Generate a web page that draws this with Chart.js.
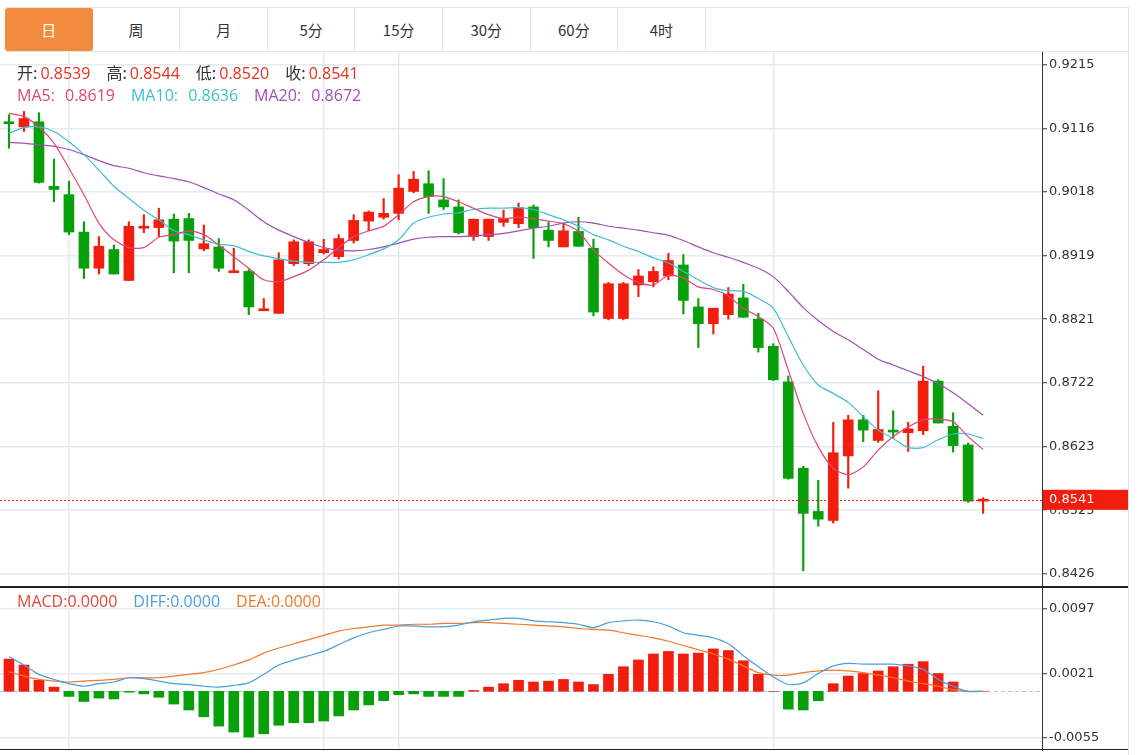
<!DOCTYPE html>
<html>
<head>
<meta charset="utf-8">
<script src="https://cdn.jsdelivr.net/npm/chart.js@4.4.1/dist/chart.umd.min.js"></script>
<style>
  body { margin: 0; background: #fff; font-family: "Microsoft YaHei", "Noto Sans CJK SC", sans-serif; }
  #wrap { position: relative; width: 1141px; height: 755px; overflow: hidden; }
  .tabs { position: absolute; left: 5px; top: 7px; width: 1123px; height: 43px; border-top: 1px solid #e4e4e4; border-bottom: 1px solid #e4e4e4; display: flex; }
  .tab { width: 87.6px; box-sizing: border-box; border-right: 1px solid #e4e4e4; text-align: center; line-height: 43px; font-size: 15px; color: #333; }
  .tab.on { background: #f28b3d; color: #fff; border-radius: 3px; border-right: none; }
  .edge { position: absolute; left: 1128px; top: 7px; width: 1px; height: 748px; background: #e4e4e4; }
  .box { position: absolute; left: 0; }
  .legend { position: absolute; left: 17px; font-size: 16px; line-height: 24px; white-space: nowrap;
            font-family: "Open Sans", "Noto Sans CJK SC", sans-serif; }
  .gap { display: inline-block; width: 16px; }
  .k { color: #333; font-family: "Noto Sans CJK SC", sans-serif; font-size: 16px; margin-right: 3px; }
  .r { color: #e8311f; }
</style>
</head>
<body>
<div id="wrap">
  <div class="tabs">
    <div class="tab on">日</div><div class="tab">周</div><div class="tab">月</div><div class="tab">5分</div>
    <div class="tab">15分</div><div class="tab">30分</div><div class="tab">60分</div><div class="tab">4时</div>
  </div>
  <div class="edge"></div>
  <div class="box" style="top:52px"><canvas id="main" width="1128" height="535"></canvas></div>
  <div class="box" style="top:587px"><canvas id="macd" width="1128" height="164"></canvas></div>
  <div class="legend" id="ohlc" style="top:60px"></div>
  <div class="legend" id="ma" style="top:83px; word-spacing: 6px"></div>
  <div class="legend" id="macdLeg" style="top:589px"></div>
</div>
<script>
// daily candles, oldest first
const opens  = [0.9127,0.9119,0.9127,0.9027,0.9014,0.8956,0.8900,0.8929,0.8881,0.8962,
                0.8963,0.8976,0.8977,0.8930,0.8933,0.8893,0.8895,0.8834,0.8830,0.8907,
                0.8907,0.8924,0.8918,0.8943,0.8973,0.8979,0.8985,0.9019,0.9031,0.9006,
                0.8995,0.8949,0.8949,0.8971,0.8969,0.8995,0.8959,0.8933,0.8957,0.8931,
                0.8822,0.8822,0.8874,0.8879,0.8888,0.8905,0.8840,0.8814,0.8828,0.8854,
                0.8821,0.8779,0.8724,0.8590,0.8523,0.8509,0.8609,0.8665,0.8633,0.8649,
                0.8645,0.8648,0.8725,0.8655,0.8626,0.8539];
const highs  = [0.9138,0.9143,0.9141,0.9069,0.9035,0.8972,0.8949,0.8936,0.8972,0.8983,
                0.8993,0.8984,0.8985,0.8967,0.8946,0.8931,0.8898,0.8853,0.8924,0.8944,
                0.8944,0.8945,0.8952,0.8983,0.8989,0.9008,0.9045,0.9050,0.9051,0.9039,
                0.9006,0.8976,0.8976,0.8990,0.9001,0.8998,0.8971,0.8970,0.8979,0.8945,
                0.8878,0.8878,0.8898,0.8902,0.8923,0.8921,0.8853,0.8838,0.8870,0.8875,
                0.8830,0.8783,0.8733,0.8593,0.8571,0.8661,0.8672,0.8672,0.8710,0.8679,
                0.8661,0.8748,0.8727,0.8676,0.8629,0.8544];
const lows   = [0.9086,0.9112,0.9032,0.9003,0.8952,0.8884,0.8891,0.8891,0.8881,0.8955,
                0.8949,0.8893,0.8893,0.8927,0.8895,0.8893,0.8828,0.8834,0.8830,0.8904,
                0.8904,0.8922,0.8914,0.8939,0.8958,0.8976,0.8975,0.9017,0.8985,0.8991,
                0.8953,0.8943,0.8943,0.8965,0.8963,0.8915,0.8933,0.8933,0.8934,0.8826,
                0.8820,0.8820,0.8856,0.8871,0.8882,0.8829,0.8777,0.8798,0.8821,0.8824,
                0.8770,0.8726,0.8573,0.8431,0.8500,0.8505,0.8559,0.8631,0.8630,0.8636,
                0.8616,0.8642,0.8660,0.8615,0.8537,0.8520];
const closes = [0.9124,0.9132,0.9033,0.9022,0.8956,0.8900,0.8934,0.8891,0.8965,0.8964,
                0.8975,0.8942,0.8943,0.8938,0.8900,0.8896,0.8840,0.8837,0.8913,0.8941,
                0.8941,0.8929,0.8946,0.8974,0.8987,0.8985,0.9024,0.9038,0.9011,0.8995,
                0.8955,0.8976,0.8976,0.8977,0.8994,0.8963,0.8943,0.8958,0.8934,0.8832,
                0.8876,0.8876,0.8888,0.8895,0.8912,0.8850,0.8814,0.8838,0.8860,0.8824,
                0.8777,0.8727,0.8574,0.8520,0.8511,0.8614,0.8665,0.8649,0.8650,0.8646,
                0.8651,0.8725,0.8660,0.8625,0.8539,0.8541];

const ma5  = [0.9140,0.9135,0.9119,0.9094,0.9055,0.9014,0.8970,0.8944,0.8932,0.8932,
              0.8948,0.8952,0.8958,0.8952,0.8936,0.8918,0.8900,0.8882,0.8879,0.8887,
              0.8897,0.8913,0.8932,0.8949,0.8958,0.8965,0.8983,0.9003,0.9011,0.9011,
              0.9003,0.8993,0.8983,0.8977,0.8979,0.8977,0.8973,0.8969,0.8957,0.8928,
              0.8908,0.8890,0.8878,0.8874,0.8889,0.8885,0.8871,0.8867,0.8857,0.8838,
              0.8825,0.8807,0.8742,0.8675,0.8623,0.8590,0.8580,0.8592,0.8618,0.8639,
              0.8654,0.8665,0.8666,0.8662,0.8639,0.8619];
const ma10 = [0.9109,0.9118,0.9119,0.9112,0.9096,0.9076,0.9052,0.9027,0.9008,0.8990,
              0.8975,0.8958,0.8952,0.8944,0.8937,0.8935,0.8926,0.8919,0.8915,0.8911,
              0.8909,0.8909,0.8909,0.8913,0.8921,0.8930,0.8944,0.8970,0.8979,0.8984,
              0.8986,0.8991,0.8993,0.8993,0.8994,0.8991,0.8983,0.8975,0.8965,0.8952,
              0.8944,0.8934,0.8926,0.8916,0.8908,0.8895,0.8882,0.8870,0.8865,0.8864,
              0.8853,0.8838,0.8794,0.8750,0.8719,0.8706,0.8692,0.8670,0.8649,0.8636,
              0.8622,0.8622,0.8634,0.8643,0.8643,0.8636];
const ma20 = [0.9095,0.9094,0.9091,0.9089,0.9084,0.9076,0.9067,0.9059,0.9055,0.9048,
              0.9043,0.9039,0.9034,0.9025,0.9015,0.9006,0.8990,0.8972,0.8959,0.8949,
              0.8940,0.8932,0.8928,0.8927,0.8929,0.8933,0.8939,0.8945,0.8948,0.8949,
              0.8949,0.8950,0.8952,0.8954,0.8958,0.8962,0.8965,0.8970,0.8972,0.8970,
              0.8965,0.8962,0.8959,0.8955,0.8951,0.8943,0.8933,0.8924,0.8917,0.8909,
              0.8900,0.8887,0.8864,0.8839,0.8819,0.8802,0.8789,0.8774,0.8759,0.8750,
              0.8741,0.8732,0.8721,0.8707,0.8690,0.8672];

const macdHist = [0.0038,0.0031,0.0013,0.0005,-0.0006,-0.0012,-0.0008,-0.0009,-0.0001,-0.0003,
                  -0.0007,-0.0015,-0.0022,-0.0030,-0.0041,-0.0048,-0.0054,-0.0050,-0.0040,-0.0037,
                  -0.0037,-0.0035,-0.0029,-0.0022,-0.0016,-0.0011,-0.0004,-0.0003,-0.0006,-0.0006,
                  -0.0006,0.0001,0.0005,0.0009,0.0013,0.0011,0.0012,0.0014,0.0011,0.0008,
                  0.0020,0.0029,0.0037,0.0044,0.0047,0.0044,0.0045,0.0050,0.0048,0.0036,
                  0.0020,0.0000,-0.0021,-0.0022,-0.0011,0.0009,0.0018,0.0021,0.0024,0.0029,
                  0.0032,0.0035,0.0021,0.0011,0.0000,0.0000];
const diffLine = [0.0041,0.0031,0.0020,0.0014,0.0009,0.0006,0.0009,0.0011,0.0016,0.0015,
                  0.0012,0.0009,0.0008,0.0006,0.0005,0.0007,0.0010,0.0020,0.0031,0.0037,
                  0.0042,0.0047,0.0055,0.0063,0.0069,0.0073,0.0077,0.0077,0.0076,0.0076,
                  0.0078,0.0082,0.0084,0.0086,0.0086,0.0083,0.0082,0.0081,0.0079,0.0075,
                  0.0081,0.0083,0.0084,0.0082,0.0077,0.0069,0.0066,0.0063,0.0056,0.0042,
                  0.0029,0.0017,0.0008,0.0010,0.0021,0.0030,0.0033,0.0032,0.0032,0.0032,
                  0.0030,0.0026,0.0014,0.0006,0.0000,0.0000];
const deaLine  = [0.0023,0.0018,0.0014,0.0012,0.0011,0.0012,0.0013,0.0014,0.0016,0.0016,
                  0.0016,0.0018,0.0020,0.0022,0.0026,0.0031,0.0037,0.0045,0.0051,0.0056,
                  0.0061,0.0066,0.0071,0.0074,0.0076,0.0078,0.0078,0.0079,0.0079,0.0080,
                  0.0080,0.0081,0.0081,0.0080,0.0079,0.0078,0.0077,0.0076,0.0074,0.0073,
                  0.0072,0.0069,0.0066,0.0063,0.0059,0.0054,0.0049,0.0044,0.0038,0.0030,
                  0.0022,0.0019,0.0019,0.0022,0.0024,0.0025,0.0024,0.0022,0.0019,0.0016,
                  0.0012,0.0009,0.0006,0.0002,0.0000,0.0000];

const priceTicks = [0.9215, 0.9116, 0.9018, 0.8919, 0.8821, 0.8722, 0.8623, 0.8525, 0.8426];
const macdTicks = [0.0097, 0.0021, -0.0055];
const dividers = [4, 21, 26, 51];   // candles where the vertical grid lines sit

const RED = '#f21d0c';
const GREEN = '#08a00a';
const GRID = '#e4ebf0';
const TICK_FONT = { family: 'DejaVu Sans', size: 13 };
const X_MIN = -0.6, X_MAX = 68.93;
const last = closes.length - 1;
const lastClose = closes[last];

// legends
const fmt = v => v.toFixed(4);
document.getElementById('ohlc').innerHTML =
  `<span class="k">开:</span><span class="r">${fmt(opens[last])}</span><span class="gap"></span>` +
  `<span class="k">高:</span><span class="r">${fmt(highs[last])}</span><span class="gap"></span>` +
  `<span class="k">低:</span><span class="r">${fmt(lows[last])}</span><span class="gap"></span>` +
  `<span class="k">收:</span><span class="r">${fmt(lastClose)}</span>`;
document.getElementById('ma').innerHTML =
  `<span style="color:#e0457b">MA5: ${fmt(ma5[last])}</span><span class="gap"></span>` +
  `<span style="color:#3dbfd6">MA10: ${fmt(ma10[last])}</span><span class="gap"></span>` +
  `<span style="color:#a24fb5">MA20: ${fmt(ma20[last])}</span>`;
document.getElementById('macdLeg').innerHTML =
  `<span style="color:#e2473a">MACD:${fmt(macdHist[last])}</span><span class="gap"></span>` +
  `<span style="color:#4a9ee0">DIFF:${fmt(diffLine[last])}</span><span class="gap"></span>` +
  `<span style="color:#f07a2a">DEA:${fmt(deaLine[last])}</span>`;

const candleColor = closes.map((c, i) => c >= opens[i] ? RED : GREEN);
const pts = arr => arr.map((v, i) => ({ x: i, y: v }));

function xAxis() {
  return {
    type: 'linear', min: X_MIN, max: X_MAX, offset: false,
    ticks: { display: false },
    grid: { color: GRID, lineWidth: 1.5, drawTicks: false, offset: false },
    border: { display: false },
    afterBuildTicks: s => { s.ticks = dividers.map(v => ({ value: v })); },
    afterFit: s => { s.height = 0; s.paddingLeft = 0; s.paddingRight = 0; }
  };
}
function yAxis(min, max, ticks) {
  return {
    type: 'linear', position: 'right', min, max,
    afterBuildTicks: s => { s.ticks = ticks.map(v => ({ value: v })); },
    afterFit: s => { s.width = 86; s.paddingTop = 0; s.paddingBottom = 0; },
    ticks: { color: '#333', font: TICK_FONT, padding: 2, callback: v => v.toFixed(4) },
    grid: { color: GRID, lineWidth: 1.5, tickLength: 5, tickColor: '#333', tickWidth: 1 },
    border: { display: true, color: '#333', width: 1 }
  };
}

const mainDecor = {
  id: 'mainDecor',
  afterDatasetsDraw(chart) {
    const { ctx, chartArea, scales } = chart;
    const py = Math.round(scales.y.getPixelForValue(lastClose)) + 0.5;
    ctx.save();
    ctx.strokeStyle = RED;
    ctx.lineWidth = 1;
    ctx.setLineDash([2, 2]);
    ctx.beginPath();
    ctx.moveTo(chartArea.left, py);
    ctx.lineTo(chartArea.right, py);
    ctx.stroke();
    ctx.restore();
  },
  afterDraw(chart) {
    const { ctx, chartArea, scales, width } = chart;
    const py = scales.y.getPixelForValue(lastClose);
    ctx.save();
    ctx.fillStyle = RED;
    ctx.fillRect(chartArea.right + 1, py - 10, width - chartArea.right - 1, 20);
    ctx.fillStyle = '#fff';
    ctx.font = '13px "DejaVu Sans"';
    ctx.textBaseline = 'middle';
    ctx.fillText(fmt(lastClose), chartArea.right + 7, py);
    ctx.strokeStyle = '#222';
    ctx.lineWidth = 1;
    ctx.beginPath();
    ctx.moveTo(0, chartArea.bottom - 0.5);
    ctx.lineTo(width, chartArea.bottom - 0.5);
    ctx.stroke();
    ctx.restore();
  }
};

new Chart(document.getElementById('main'), {
  type: 'bar',
  data: {
    datasets: [
      { type: 'line', data: pts(ma5), borderColor: '#e0457b', borderWidth: 1.2, pointRadius: 0, tension: 0.25, order: 0 },
      { type: 'line', data: pts(ma10), borderColor: '#3dbfd6', borderWidth: 1.2, pointRadius: 0, tension: 0.25, order: 0 },
      { type: 'line', data: pts(ma20), borderColor: '#a24fb5', borderWidth: 1.2, pointRadius: 0, tension: 0.25, order: 0 },
      { data: opens.map((o, i) => ({ x: i, y: [o, closes[i]] })), backgroundColor: candleColor,
        grouped: false, barThickness: 10, maxBarThickness: 10, minBarLength: 2, order: 1 },
      { data: lows.map((l, i) => ({ x: i, y: [l, highs[i]] })), backgroundColor: candleColor,
        grouped: false, barThickness: 1.5, maxBarThickness: 1.5, order: 2 }
    ]
  },
  options: {
    responsive: false,
    animation: false,
    events: [],
    layout: { padding: 0, autoPadding: false },
    plugins: { legend: { display: false }, tooltip: { enabled: false } },
    scales: {
      x: xAxis(),
      y: yAxis(0.840585, 0.923515, priceTicks)
    }
  },
  plugins: [mainDecor]
});

const macdDecor = {
  id: 'macdDecor',
  beforeDatasetsDraw(chart) {
    const { ctx, chartArea, scales } = chart;
    const py = Math.round(scales.y.getPixelForValue(0)) + 0.5;
    ctx.save();
    ctx.strokeStyle = '#9fcfe0';
    ctx.lineWidth = 1;
    ctx.setLineDash([4, 3]);
    ctx.beginPath();
    ctx.moveTo(chartArea.left, py);
    ctx.lineTo(chartArea.right, py);
    ctx.stroke();
    ctx.restore();
  },
  afterDraw(chart) {
    const { ctx, chartArea, width } = chart;
    ctx.save();
    ctx.strokeStyle = '#222';
    ctx.lineWidth = 1;
    ctx.beginPath();
    ctx.moveTo(0, chartArea.top + 0.5);
    ctx.lineTo(width, chartArea.top + 0.5);
    ctx.moveTo(0, chartArea.bottom - 1.5);
    ctx.lineTo(width, chartArea.bottom - 1.5);
    ctx.stroke();
    ctx.restore();
  }
};

new Chart(document.getElementById('macd'), {
  type: 'bar',
  data: {
    datasets: [
      { type: 'line', data: pts(diffLine), borderColor: '#4a9ee0', borderWidth: 1.2, pointRadius: 0, tension: 0.25, order: 0 },
      { type: 'line', data: pts(deaLine), borderColor: '#f07a2a', borderWidth: 1.2, pointRadius: 0, tension: 0.25, order: 0 },
      { data: pts(macdHist), backgroundColor: macdHist.map(v => v >= 0 ? RED : GREEN),
        grouped: false, barThickness: 10, maxBarThickness: 10, order: 1 }
    ]
  },
  options: {
    responsive: false,
    animation: false,
    events: [],
    layout: { padding: 0, autoPadding: false },
    plugins: { legend: { display: false }, tooltip: { enabled: false } },
    scales: {
      x: xAxis(),
      y: yAxis(-0.007032, 0.012292, macdTicks)
    }
  },
  plugins: [macdDecor]
});
</script>
</body>
</html>
